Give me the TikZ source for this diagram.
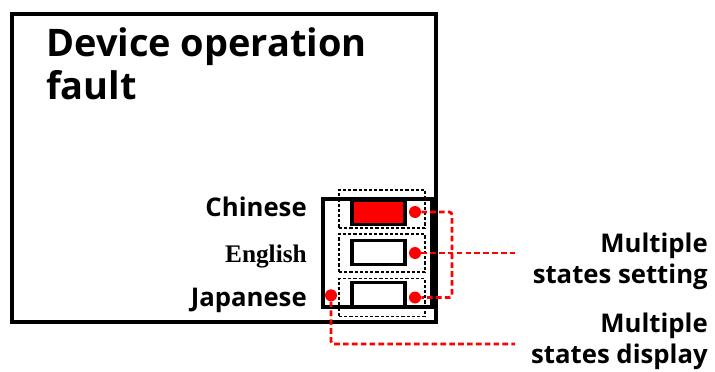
\documentclass[tikz,border=0pt]{standalone}
\usepackage{fontspec}
\setmainfont{Open Sans}
\newfontfamily\timesfont{Liberation Serif}
\usetikzlibrary{positioning,calc}
\definecolor{uiRed}{HTML}{FF0000}

\begin{document}
\begin{tikzpicture}[
    frame/.style={draw, line width=2.2pt, inner sep=0pt},
    rowbox/.style={draw, line width=1.1pt, dash pattern=on 2.2pt off 1.5pt, minimum width=2.15cm, minimum height=0.95cm, inner sep=0pt},
    btn/.style={draw, line width=2.2pt, minimum width=1.325cm, minimum height=0.6cm, inner sep=0pt},
    dot/.style={circle, fill=uiRed, minimum size=0.3cm, inner sep=0pt},
    link/.style={uiRed, line width=2pt, dash pattern=on 4pt off 2.3pt, rounded corners=2pt},
    lbl/.style={font=\bfseries\fontsize{18.3}{22}\selectfont, inner sep=0pt, align=right},
]

\useasboundingbox (0,0) rectangle (17.875,-9.3);

% ===== Screen =====
\node[frame, minimum width=10.6cm, minimum height=7.7cm] (screen) at (5.6,-4.2) {};
\node[anchor=base west, inner sep=0pt, align=left, font=\bfseries\fontsize{27}{30.6}\selectfont] (title) at (1.15,-2.5)
    {Device operation\\fault};

% ===== Language panel =====
\node[frame, minimum width=2.725cm, minimum height=2.7cm] (panel) at (9.4375,-6.325) {};

\foreach \i/\ry/\by/\dy/\fillc in {1/-5.225/-5.3125/-5.3/uiRed, 2/-6.33/-6.3125/-6.325/white, 3/-7.435/-7.3625/-7.4375/white}{
    \node[rowbox] (row\i) at (9.55,\ry) {};
    \node[btn, fill=\fillc] (btn\i) at (9.4625,\by) {};
    \node[dot] (set\i) at (10.375,\dy) {};
}
\node[dot] (show) at (8.275,-7.3825) {};

% Language names
\node[lbl, anchor=base east] (zh) at (7.675,-5.4) {Chinese};
\node[lbl, anchor=base east, font=\timesfont\bfseries\fontsize{18}{20}\selectfont] (en) at (7.675,-6.5625) {English};
\node[lbl, anchor=base east] (ja) at (7.675,-7.65) {Japanese};

% ===== Red links =====
\coordinate (bus) at (11.3,-6.325);
\coordinate (setEnd) at (12.875,-6.325);
\coordinate (showEnd) at (12.875,-8.6);

\draw[link] (set1) -| (bus) |- (set3);
\draw[link] (set2) -- (setEnd);
\draw[link] (show) |- (showEnd);

\node[lbl, anchor=base east] (setLbl) at (17.7,-7.075) {Multiple\\states setting};
\node[lbl, anchor=base east] (showLbl) at (17.7,-9.075) {Multiple\\states display};

\end{tikzpicture}
\end{document}
